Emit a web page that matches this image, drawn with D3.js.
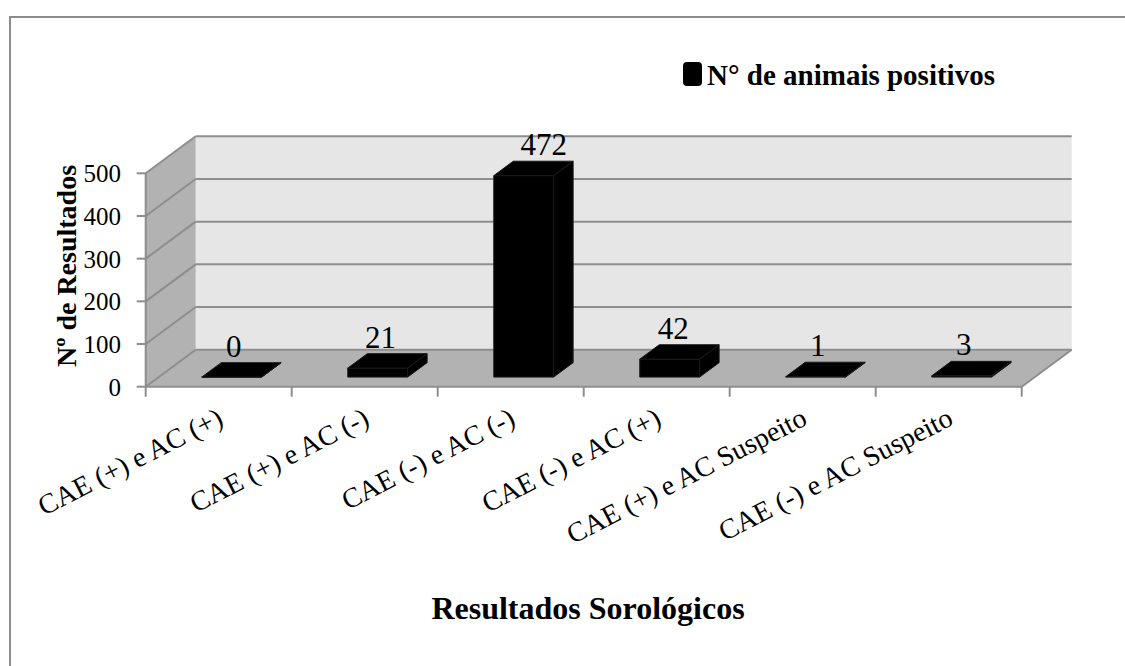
<!DOCTYPE html>
<html>
<head>
<meta charset="utf-8">
<script src="https://cdn.jsdelivr.net/npm/d3@7"></script>
<style>
  body { margin: 0; background: #fff; }
  text { font-family: "Liberation Serif", "Times New Roman", serif; fill: #000; }
</style>
</head>
<body>
<svg id="chart" width="1125" height="666"></svg>
<script>
// data
var categories = ["CAE (+) e AC (+)", "CAE (+) e AC (-)", "CAE (-) e AC (-)",
                  "CAE (-) e AC (+)", "CAE (+) e AC Suspeito", "CAE (-) e AC Suspeito"];
var positivos = [0, 21, 472, 42, 1, 3];
var yTicks = [0, 100, 200, 300, 400, 500];
var seriesName = "N° de animais positivos";
var yTitle = "Nº de Resultados";
var xTitle = "Resultados Sorológicos";

var svg = d3.select("#chart");

var depth = { x: 50, y: -37 };   // 3d offset from front plane to back wall
var barFront = 0.26, barBack = 0.65;

var x = d3.scaleBand()
  .domain(categories)
  .range([145.7, 1021.7]);
var y = d3.scaleLinear()
  .domain([0, 500])
  .range([386.7, 173.3]);

var barW = x.bandwidth() * 0.41;

// outer border
svg.append("rect")
  .attr("x", 10).attr("y", 17)
  .attr("width", 1130).attr("height", 700)
  .attr("fill", "none")
  .attr("stroke", "#8c8c8c")
  .attr("stroke-width", 2);

var x0 = x.range()[0], x1 = x.range()[1];
var gridCol = "#8e8e8e";

// back wall
svg.append("rect")
  .attr("x", x0 + depth.x)
  .attr("y", y(500) + depth.y)
  .attr("width", x1 - x0)
  .attr("height", y(0) - y(500))
  .attr("fill", "#e6e6e6");

// side wall
svg.append("polygon")
  .attr("points", [[x0, y(0)], [x0 + depth.x, y(0) + depth.y],
                   [x0 + depth.x, y(500) + depth.y], [x0, y(500)]].join(" "))
  .attr("fill", "#b2b2b2");

// floor
svg.append("polygon")
  .attr("points", [[x0, y(0)], [x1, y(0)], [x1 + depth.x, y(0) + depth.y],
                   [x0 + depth.x, y(0) + depth.y]].join(" "))
  .attr("fill", "#b2b2b2");

// grid lines on back wall and side wall
svg.selectAll(".grid")
  .data(yTicks)
  .enter().append("line")
    .attr("x1", x0 + depth.x)
    .attr("x2", x1 + depth.x)
    .attr("y1", d => y(d) + depth.y)
    .attr("y2", d => y(d) + depth.y)
    .attr("stroke", gridCol)
    .attr("stroke-width", 2);
svg.selectAll(".sideGrid")
  .data(yTicks)
  .enter().append("line")
    .attr("x1", x0)
    .attr("x2", x0 + depth.x)
    .attr("y1", d => y(d))
    .attr("y2", d => y(d) + depth.y)
    .attr("stroke", gridCol)
    .attr("stroke-width", 2);

// axes lines
svg.append("line")
  .attr("x1", x0).attr("x2", x0)
  .attr("y1", y(0)).attr("y2", y(500))
  .attr("stroke", gridCol).attr("stroke-width", 2);
svg.append("line")
  .attr("x1", x0).attr("x2", x1)
  .attr("y1", y(0)).attr("y2", y(0))
  .attr("stroke", gridCol).attr("stroke-width", 2);
svg.append("line")
  .attr("x1", x1).attr("x2", x1 + depth.x)
  .attr("y1", y(0)).attr("y2", y(0) + depth.y)
  .attr("stroke", gridCol).attr("stroke-width", 2);

// y ticks
svg.selectAll(".ytick")
  .data(yTicks)
  .enter().append("line")
    .attr("x1", x0 - 9).attr("x2", x0)
    .attr("y1", d => y(d)).attr("y2", d => y(d))
    .attr("stroke", gridCol).attr("stroke-width", 2);
svg.selectAll(".ylab")
  .data(yTicks)
  .enter().append("text")
    .attr("x", 121)
    .attr("y", d => y(d) + 9)
    .attr("text-anchor", "end")
    .style("font-size", "25px")
    .text(d => d);

// x ticks at band edges
var edges = categories.map(c => x(c)).concat([x1]);
svg.selectAll(".xtick")
  .data(edges)
  .enter().append("line")
    .attr("x1", d => d).attr("x2", d => d)
    .attr("y1", y(0)).attr("y2", y(0) + 10)
    .attr("stroke", gridCol).attr("stroke-width", 2);

// bars
var bars = svg.selectAll(".bar")
  .data(positivos)
  .enter().append("g");

bars.each(function(v, i) {
  var g = d3.select(this);
  var left = x(categories[i]) + (x.bandwidth() - barW) / 2;
  var fx = barFront * depth.x, fy = barFront * depth.y;
  var bx = barBack * depth.x, by = barBack * depth.y;
  var top = y(v), bot = y(0);
  // front face
  g.append("polygon")
    .attr("points", [[left + fx, top + fy], [left + barW + fx, top + fy],
                     [left + barW + fx, bot + fy], [left + fx, bot + fy]].join(" "));
  // top face
  g.append("polygon")
    .attr("points", [[left + fx, top + fy], [left + bx, top + by],
                     [left + barW + bx, top + by], [left + barW + fx, top + fy]].join(" "));
  // right side
  g.append("polygon")
    .attr("points", [[left + barW + fx, top + fy], [left + barW + bx, top + by],
                     [left + barW + bx, bot + by], [left + barW + fx, bot + fy]].join(" "));
  g.selectAll("polygon")
    .attr("fill", "#000")
    .attr("stroke", "#1a1a1a")
    .attr("stroke-width", 1)
    .attr("stroke-linejoin", "round");

  // value label, shifted a bit with height like excel's perspective
  g.append("text")
    .attr("x", x(categories[i]) + x.bandwidth() / 2 + 0.3 * depth.x + (bot - top) * 0.09)
    .attr("y", top + by - 6)
    .attr("text-anchor", "middle")
    .style("font-size", "31px")
    .text(v);
});

// category labels
svg.selectAll(".xlab")
  .data(categories)
  .enter().append("text")
    .attr("transform", d => "translate(" + (x(d) + x.bandwidth() / 2 + 6) + ",424) rotate(-27)")
    .attr("text-anchor", "end")
    .style("font-size", "28px")
    .text(d => d);

// y axis title
svg.append("text")
  .attr("transform", "translate(76,266) rotate(-90)")
  .attr("text-anchor", "middle")
  .style("font-size", "28px")
  .style("font-weight", "bold")
  .text(yTitle);

// x axis title
svg.append("text")
  .attr("x", 588)
  .attr("y", 619)
  .attr("text-anchor", "middle")
  .style("font-size", "32px")
  .style("font-weight", "bold")
  .text(xTitle);

// legend
svg.append("rect")
  .attr("x", 683).attr("y", 62)
  .attr("width", 19).attr("height", 24)
  .attr("rx", 4)
  .attr("fill", "#000");
svg.append("text")
  .attr("x", 707)
  .attr("y", 85)
  .style("font-size", "29px")
  .style("font-weight", "bold")
  .text(seriesName);
</script>
</body>
</html>
